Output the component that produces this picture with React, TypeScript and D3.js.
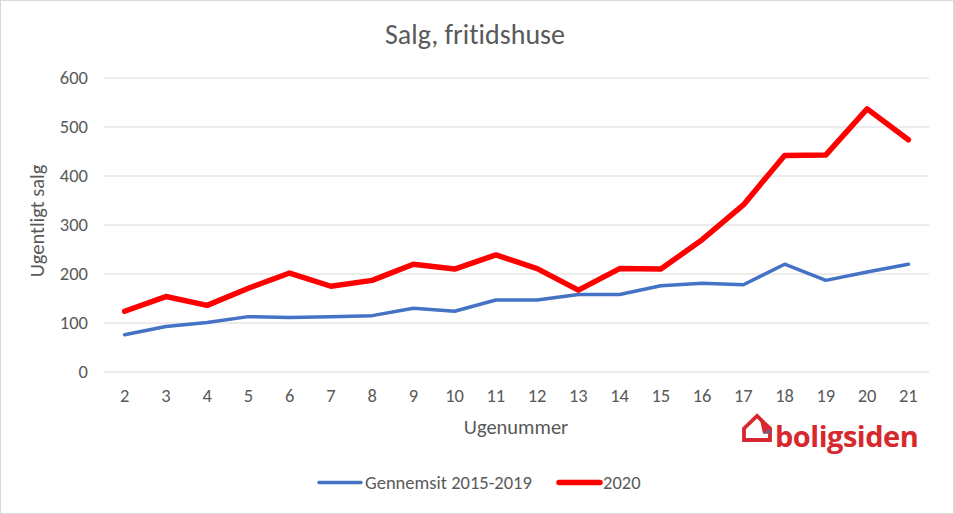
import React from "react";
import * as d3 from "d3";

const weeks = [2, 3, 4, 5, 6, 7, 8, 9, 10, 11, 12, 13, 14, 15, 16, 17, 18, 19, 20, 21];
const avg = [76, 93, 101, 113, 111, 113, 115, 130, 124, 147, 147, 158, 158, 176, 181, 178, 220, 187, 204, 220];
const y2020 = [124, 154, 136, 171, 202, 175, 187, 220, 210, 239, 211, 167, 211, 210, 270, 341, 442, 443, 537, 474];
const yTicks = [0, 100, 200, 300, 400, 500, 600];
const seriesNames = ["Gennemsit 2015-2019", "2020"];

const W = 954, H = 514;
const left = 104, right = 929, top = 78, bottom = 372;
const font = "Carlito, Calibri, Lato, 'Liberation Sans', Arial, sans-serif";
const gray = "#595959";

export default function App() {
  const x = d3.scaleBand<number>().domain(weeks).range([left, right]);
  const xc = (w: number) => (x(w) as number) + x.bandwidth() / 2;
  const y = d3.scaleLinear().domain([0, 600]).range([bottom, top]);
  const line = d3.line<number>().x((_, i) => xc(weeks[i])).y((v) => y(v));

  return (
    <div>
      <style>{"body{margin:0}"}</style>
      <svg width={W} height={H} style={{ display: "block", fontFamily: font, fontVariantLigatures: "none" }}>
        <rect x={0.5} y={0.5} width={W - 1} height={H - 1} fill="#fff" stroke="#d9d9d9" />
        <text x={475} y={44} textAnchor="middle" fontSize={28} fill={gray}>Salg, fritidshuse</text>
        {yTicks.map((t) => (
          <g key={t}>
            <line x1={left} x2={right} y1={y(t)} y2={y(t)} stroke="#d9d9d9" strokeWidth={1} />
            <text x={88} y={y(t) + 6} textAnchor="end" fontSize={18.5} fill={gray}>{t}</text>
          </g>
        ))}
        {weeks.map((w) => (
          <text key={w} x={xc(w)} y={402} textAnchor="middle" fontSize={18.5} fill={gray}>{w}</text>
        ))}
        <text x={516} y={434} textAnchor="middle" fontSize={20.5} fill={gray}>Ugenummer</text>
        <text transform={`translate(43.5,221) rotate(-90)`} textAnchor="middle" fontSize={20.5} fill={gray}>Ugentligt salg</text>
        <path d={line(avg) || ""} fill="none" stroke="#4472c4" strokeWidth={3.5} strokeLinejoin="round" strokeLinecap="round" />
        <path d={line(y2020) || ""} fill="none" stroke="#ff0000" strokeWidth={5.5} strokeLinejoin="round" strokeLinecap="round" />
        {/* legend */}
        <line x1={319} x2={361} y1={482.5} y2={482.5} stroke="#4472c4" strokeWidth={3.5} strokeLinecap="round" />
        <text x={365} y={488.5} fontSize={18.5} fill={gray}>{seriesNames[0]}</text>
        <line x1={559} x2={600} y1={482.5} y2={482.5} stroke="#ff0000" strokeWidth={5.5} strokeLinecap="round" />
        <text x={603} y={488.5} fontSize={18.5} fill={gray}>{seriesNames[1]}</text>
        {/* logo */}
        <g>
          <path d="M744,440 L744,428.5 L757,416 L770,428.5 L770,440 Z" fill="none" stroke="#d7282f" strokeWidth={3.8} strokeLinejoin="miter" />
          <path d="M756,414 L772,428 L772,433.5 L763,433.5 L760,420 Z" fill="#d7282f" />
          <path d="M763,433.5 L771.5,433.5 L769,429 Z" fill="#6b5b8a" />
          <text x={775} y={447} fontSize={29} fontWeight="bold" fill="#d7282f" fontFamily="'Open Sans', 'Noto Sans', sans-serif" letterSpacing={-0.5}>boligsiden</text>
        </g>
      </svg>
    </div>
  );
}
